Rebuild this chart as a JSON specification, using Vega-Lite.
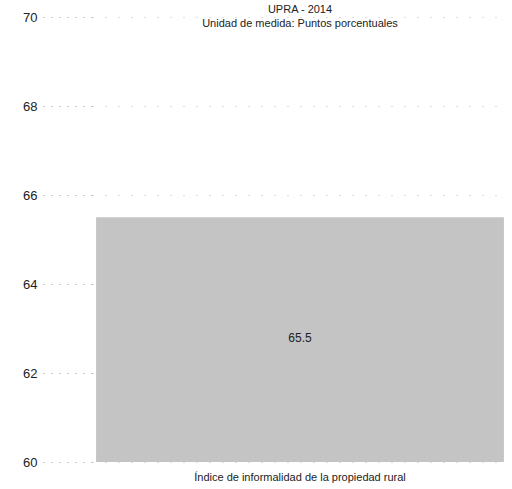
{
  "$schema": "https://vega.github.io/schema/vega-lite/v6.json",
  "autosize": "none",
  "width": 416,
  "height": 445,
  "padding": {"left": 92, "top": 17, "right": 4, "bottom": 27},
  "background": "white",
  "config": {"view": {"stroke": null}},
  "title": {
    "text": "UPRA - 2014",
    "subtitle": "Unidad de medida: Puntos porcentuales",
    "anchor": "middle",
    "frame": "group",
    "font": "Liberation Sans",
    "fontSize": 11,
    "fontWeight": "normal",
    "color": "#222",
    "subtitleFont": "Liberation Sans",
    "subtitleFontSize": 11,
    "subtitleColor": "#222",
    "subtitlePadding": 3,
    "offset": -18
  },
  "data": {"values": [{"indicador": "Índice de informalidad de la propiedad rural", "valor": 65.5}]},
  "encoding": {
    "x": {
      "field": "indicador",
      "type": "nominal",
      "scale": {"paddingInner": 0, "paddingOuter": 0.01},
      "axis": {
        "title": null,
        "labelAngle": 0,
        "labelLimit": 0,
        "domain": false,
        "ticks": false,
        "labelFont": "Liberation Sans",
        "labelFontSize": 11,
        "labelColor": "#222",
        "labelPadding": 9
      }
    }
  },
  "layer": [
    {
      "mark": {"type": "bar", "color": "#c4c4c4"},
      "encoding": {
        "y": {
          "field": "valor",
          "type": "quantitative",
          "scale": {"domain": [60, 70], "zero": false, "nice": false},
          "axis": {
            "title": null,
            "values": [60, 62, 64, 66, 68, 70],
            "domain": false,
            "tickSize": 50,
            "tickColor": "#999",
            "tickDash": [1, 7],
            "labelPadding": 5,
            "labelFont": "Liberation Sans",
            "labelFontSize": 13,
            "labelColor": "#222",
            "grid": true,
            "gridColor": "#aaa",
            "gridDash": [1, 12],
            "gridOpacity": 0.8
          }
        },
        "y2": {"datum": 60}
      }
    },
    {
      "mark": {"type": "text", "dy": 121, "font": "Liberation Sans", "fontSize": 12, "color": "#222", "baseline": "middle"},
      "encoding": {
        "y": {"field": "valor", "type": "quantitative"},
        "text": {"field": "valor", "type": "quantitative", "format": ".1f"}
      }
    }
  ]
}
